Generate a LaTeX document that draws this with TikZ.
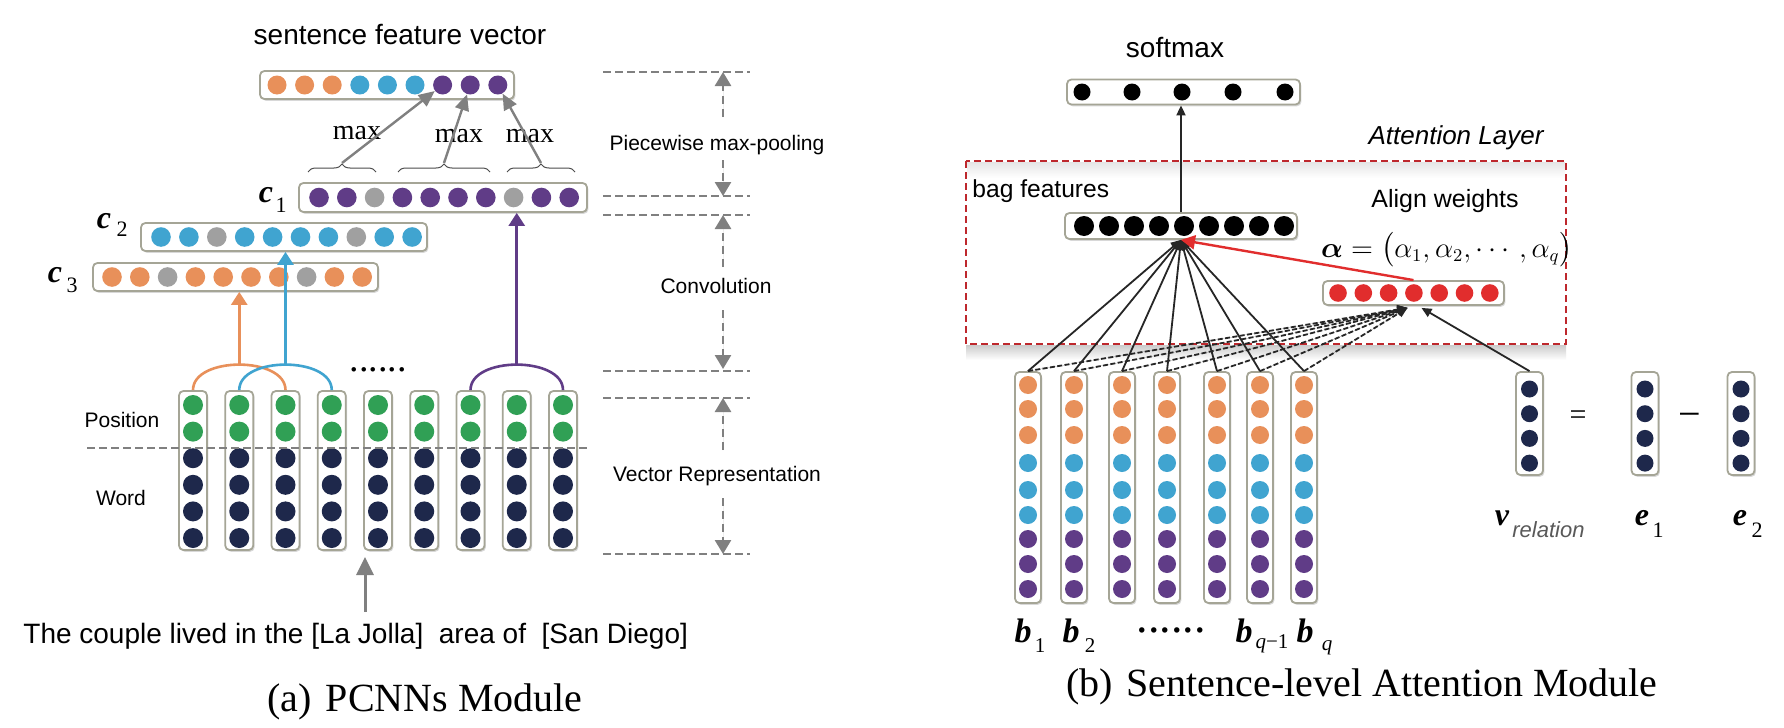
\documentclass[tikz,border=0pt]{standalone}
\usepackage{amsmath}
\usepackage{fontspec}
\setmainfont{Liberation Serif}
\setsansfont{Liberation Sans}
\usetikzlibrary{arrows.meta,decorations.pathreplacing,shadows,calc}
\definecolor{oC}{RGB}{232,144,90}
\definecolor{bC}{RGB}{64,164,208}
\definecolor{pC}{RGB}{96,60,135}
\definecolor{gC}{RGB}{160,160,160}
\definecolor{grC}{RGB}{48,160,85}
\definecolor{nC}{RGB}{30,40,75}
\definecolor{rC}{RGB}{225,45,45}
\definecolor{rectC}{RGB}{190,40,45}
\definecolor{boxC}{RGB}{165,165,150}
\definecolor{arrC}{RGB}{128,128,128}
\newcommand\fsz[1]{\fontsize{#1}{#1}\selectfont}
\begin{document}
\begin{tikzpicture}[x=0.5pt,y=-0.5pt,
  vbox/.style={draw=boxC, line width=0.9pt, rounded corners=2.2pt, fill=white, inner sep=0pt,
    drop shadow={shadow xshift=0.7pt, shadow yshift=-0.9pt, opacity=0.3, fill=black!50}},
  ball/.style={circle, inner sep=0pt, minimum size=#1},
  txt/.style={inner sep=0pt, anchor=base},
  lbl/.style={txt, font=\sffamily\fsz{10.5}},
  bigarr/.style={-{Triangle[length=6.5pt,width=8pt]}, line width=1.3pt},
  midarr/.style={-{Triangle[length=7pt,width=8pt]}, line width=1.3pt, draw=arrC, fill=arrC, dash pattern=on 4pt off 2.5pt},
  hdash/.style={draw=arrC, line width=1.3pt, dash pattern=on 4pt off 2pt},
  blk/.style={-{Triangle[length=5pt,width=4.5pt]}, line width=0.9pt, draw=black!85, fill=black!85},
  bvar/.style={txt, font=\bfseries\itshape\fsz{16}},
]
\useasboundingbox (0,0) rectangle (1784,728);
\fill[white] (0,0) rectangle (1784,728);

% ---------------- (a) PCNNs ----------------
\node[txt, font=\sffamily\fsz{14}] (sfvl) at (400,45) {sentence feature vector};
\node[vbox, minimum width=127pt, minimum height=14pt] (sfv) at (387,85) {};
\foreach \cc [count=\i from 0] in {oC,oC,oC,bC,bC,bC,pC,pC,pC}
  \node[ball=9.5pt, fill=\cc] (s\i) at ({277+27.6*\i},85) {};

\node[vbox, minimum width=144pt, minimum height=14.5pt] (c1) at (443,197.5) {};
\foreach \cc [count=\i from 0] in {pC,pC,gC,pC,pC,pC,pC,gC,pC,pC}
  \node[ball=9.8pt, fill=\cc] (ca\i) at ({319+27.8*\i},197.5) {};
\node[vbox, minimum width=143pt, minimum height=14pt] (c2) at (284,237) {};
\foreach \cc [count=\i from 0] in {bC,bC,gC,bC,bC,bC,bC,gC,bC,bC}
  \node[ball=9.8pt, fill=\cc] (cb\i) at ({161+27.9*\i},237) {};
\node[vbox, minimum width=142.5pt, minimum height=14pt] (c3) at (235.5,277) {};
\foreach \cc [count=\i from 0] in {oC,oC,gC,oC,oC,oC,oC,gC,oC,oC}
  \node[ball=9.8pt, fill=\cc] (cc\i) at ({112+27.8*\i},277) {};

\node[bvar] (c1l) at (266,202) {c};
\node[txt, font=\fsz{11}] (c1s) at (281,212) {1};
\node[bvar] (c2l) at (104,228) {c};
\node[txt, font=\fsz{11}] (c2s) at (122,236) {2};
\node[bvar] (c3l) at (55,282) {c};
\node[txt, font=\fsz{11}] (c3s) at (72,292) {3};

% braces and max
\draw[decorate, decoration={brace, amplitude=4pt}, draw=black!70, line width=0.5pt] (308,172) -- (376,172);
\draw[decorate, decoration={brace, amplitude=4pt}, draw=black!70, line width=0.5pt] (398,172) -- (490,172);
\draw[decorate, decoration={brace, amplitude=4pt}, draw=black!70, line width=0.5pt] (507,172) -- (575,172);
\coordinate (br1) at (342,163);
\coordinate (br2) at (444,163);
\coordinate (br3) at (541,163);
\node[txt, font=\fsz{14}] (mx1) at (357,139) {max};
\node[txt, font=\fsz{14}] (mx2) at (459,142) {max};
\node[txt, font=\fsz{14}] (mx3) at (530,142) {max};
\draw[arrC, -{Triangle[length=8pt,width=7pt]}, line width=1.2pt] (br1) -- (s6);
\draw[arrC, -{Triangle[length=8pt,width=7pt]}, line width=1.2pt] (br2) -- (s7);
\draw[arrC, -{Triangle[length=8pt,width=7pt]}, line width=1.2pt] (br3) -- (s8);

% word columns
\foreach \i in {0,...,8} {
  \node[vbox, minimum width=14pt, minimum height=79.5pt] (col\i) at ({193+46.25*\i},470.5) {};
  \foreach \cc [count=\j from 0] in {grC,grC,nC,nC,nC,nC}
    \node[ball=10pt, fill=\cc] (w\i-\j) at ({193+46.25*\i},{405+26.6*\j}) {};
}
\coordinate (dl1) at (87,448);
\coordinate (dl2) at (587,448);
\draw[hdash] (dl1) -- (dl2);
\node[lbl] (posl) at (122,427) {Position};
\node[lbl] (wordl) at (121,505) {Word};
\node[txt, font=\fsz{19}] (ldots) at (378,371) {......};

% arcs and convolution arrows
\draw[oC, line width=1.3pt] (col0.north) .. controls +(0,-34) and +(0,-34) .. (col2.north);
\draw[bC, line width=1.3pt] (col1.north) .. controls +(0,-34) and +(0,-34) .. (col3.north);
\draw[pC, line width=1.3pt] (col6.north) .. controls +(0,-34) and +(0,-34) .. (col8.north);
\coordinate (op) at ($(col0.north)!0.5!(col2.north)+(0,-25.5)$);
\coordinate (bp) at ($(col1.north)!0.5!(col3.north)+(0,-25.5)$);
\coordinate (pp) at ($(col6.north)!0.5!(col8.north)+(0,-25.5)$);
\draw[oC, fill=oC, bigarr] (op) -- (op |- c3.south);
\draw[bC, fill=bC, bigarr] (bp) -- (bp |- c2.south);
\draw[pC, fill=pC, bigarr] (pp) -- (pp |- c1.south);

% sentence
\node[txt, anchor=base west, font=\sffamily\fsz{14}] (sent) at (23,643) {The couple lived in the [La Jolla]\ \ area of\ \ [San Diego]};
\coordinate (sa) at (365,612);
\coordinate (sb) at (365,557);
\draw[arrC, fill=arrC, -{Triangle[length=9pt,width=8.5pt]}, line width=1.5pt] (sa) -- (sb);
\node[txt, anchor=base west, font=\fsz{20}] (capa) at (267,711) {(a)\hspace{0.35em}PCNNs Module};

% middle scale
\foreach \yy [count=\k] in {72,196,215,371,398,554} {
  \coordinate (ml\k) at (603,\yy);
  \coordinate (mr\k) at (750,\yy);
  \coordinate (mm\k) at (723,\yy);
  \draw[hdash] (ml\k) -- (mr\k);
}
\node[lbl] (pwl) at (717,150) {Piecewise max-pooling};
\node[lbl] (convl) at (716,293) {Convolution};
\node[lbl] (vrl) at (717,481) {Vector Representation};
\coordinate (ma1) at (723,117);
\coordinate (ma2) at (723,160);
\coordinate (ma3) at (723,267);
\coordinate (ma4) at (723,310);
\coordinate (ma5) at (723,450);
\coordinate (ma6) at (723,498);
\draw[midarr] (ma1) -- (mm1);
\draw[midarr] (ma2) -- (mm2);
\draw[midarr] (ma3) -- (mm3);
\draw[midarr] (ma4) -- ($(mm4)+(0,-2)$);
\draw[midarr] (ma5) -- (mm5);
\draw[midarr] (ma6) -- (mm6);

% ---------------- (b) Attention ----------------
\shade[top color=black!20, bottom color=white] (966,345) rectangle (1566,360);
\shade[top color=black!10, bottom color=white] (967,162) rectangle (1565,178);
\draw[rectC, line width=1pt, dash pattern=on 3.5pt off 2pt] (966,161) rectangle (1566,344);
\node[txt, font=\sffamily\itshape\fsz{13}] (attl) at (1456,144) {Attention Layer};

\node[txt, font=\sffamily\fsz{14}] (softl) at (1175,57) {softmax};
\node[vbox, minimum width=116.5pt, minimum height=12.5pt] (soft) at (1183.5,92) {};
\foreach \xx [count=\i] in {1082,1132,1182,1233,1285}
  \node[ball=8.5pt, fill=black] (so\i) at (\xx,92) {};

\node[txt, anchor=base west, font=\sffamily\fsz{12.3}] (bagl) at (972,197) {bag features};
\node[vbox, minimum width=116pt, minimum height=13pt] (bag) at (1181,226) {};
\foreach \i in {0,...,8}
  \node[ball=10pt, fill=black] (bg\i) at ({1084+25*\i},226) {};

\node[txt, font=\sffamily\fsz{12.5}] (alignl) at (1445,207) {Align weights};
\node[txt, font=\fsz{13.5}] (alpha) at (1447,257) {$\boldsymbol{\alpha}=\bigl(\alpha_1,\alpha_2,\cdots,\alpha_q\bigr)$};
\node[vbox, minimum width=90.5pt, minimum height=12pt] (red) at (1413.5,293) {};
\foreach \i in {0,...,6}
  \node[ball=8.8pt, fill=rC] (rd\i) at ({1338+25.3*\i},293) {};

% bag columns
\foreach \xx [count=\i] in {1028,1074,1122,1167,1217,1260,1304} {
  \node[vbox, minimum width=13pt, minimum height=115.5pt] (bcol\i) at (\xx,487.5) {};
  \foreach \yy/\cc [count=\j] in {385/oC,409/oC,435/oC,463/bC,490/bC,515/bC,539/pC,564/pC,589/pC}
    \node[ball=9pt, fill=\cc] (bb\i-\j) at (\xx,\yy) {};
}
\node[bvar, font=\bfseries\itshape\fsz{17}] (b1l) at (1023,642) {b};
\node[txt, font=\fsz{10.5}] (b1s) at (1040,652) {1};
\node[bvar, font=\bfseries\itshape\fsz{17}] (b2l) at (1071,642) {b};
\node[txt, font=\fsz{10.5}] (b2s) at (1090,652) {2};
\node[txt, font=\fsz{23}] (rdots) at (1171,632) {......};
\node[bvar, font=\bfseries\itshape\fsz{17}] (bq1l) at (1244,642) {b};
\node[txt, font=\fsz{10.5}] (bq1s) at (1272,648) {\itshape q\upshape −1};
\node[bvar, font=\bfseries\itshape\fsz{17}] (bql) at (1305,642) {b};
\node[txt, font=\itshape\fsz{10.5}] (bqs) at (1327,650) {q};

% relation vectors
\node[vbox, minimum width=13.5pt, minimum height=51.5pt] (vrel) at (1529.5,423.5) {};
\node[vbox, minimum width=13.5pt, minimum height=51.5pt] (ev1) at (1645,423.5) {};
\node[vbox, minimum width=13.5pt, minimum height=51.5pt] (ev2) at (1741,423.5) {};
\foreach \xx/\nm in {1529.5/v,1645/e,1741/f}
  \foreach \j in {0,...,3}
    \node[ball=8.5pt, fill=nC] (\nm\j) at (\xx,{389+24.7*\j}) {};
\node[font=\fsz{15}, inner sep=0pt] (eq) at (1578,418) {=};
\node[font=\fsz{20}, inner sep=0pt] (mn) at (1690,420) {−};
\node[bvar] (vl) at (1502,525) {v};
\node[txt, anchor=base west, font=\sffamily\itshape\fsz{11}, text=black!65] (vls) at (1512,537) {relation};
\node[bvar] (e1l) at (1642,525) {e};
\node[txt, font=\fsz{11}] (e1s) at (1658,537) {1};
\node[bvar] (e2l) at (1740,525) {e};
\node[txt, font=\fsz{11}] (e2s) at (1757,537) {2};

% connectors
\coordinate (redin) at ($(red.south)+(-6,2)$);
\coordinate (redin2) at ($(red.south)+(8,2)$);
\foreach \i in {1,...,7} {
  \draw[blk, dash pattern=on 2.5pt off 1.2pt] (bcol\i.north) -- (redin);
}
\foreach \i in {1,...,7} {
  \draw[blk] (bcol\i.north) -- (bag.south);
}
\draw[blk] (vrel.north) -- (redin2);
\draw[rC, fill=rC, line width=1.2pt, -{Triangle[length=7pt,width=7pt]}] (red.north) -- (bag.south);
\draw[blk] (bag.north) -- (bag.north |- soft.south);

\node[txt, anchor=base east, font=\fsz{20}] (capb) at (1658,696) {(b)\hspace{0.35em}Sentence-level Attention Module};
\end{tikzpicture}
\end{document}
